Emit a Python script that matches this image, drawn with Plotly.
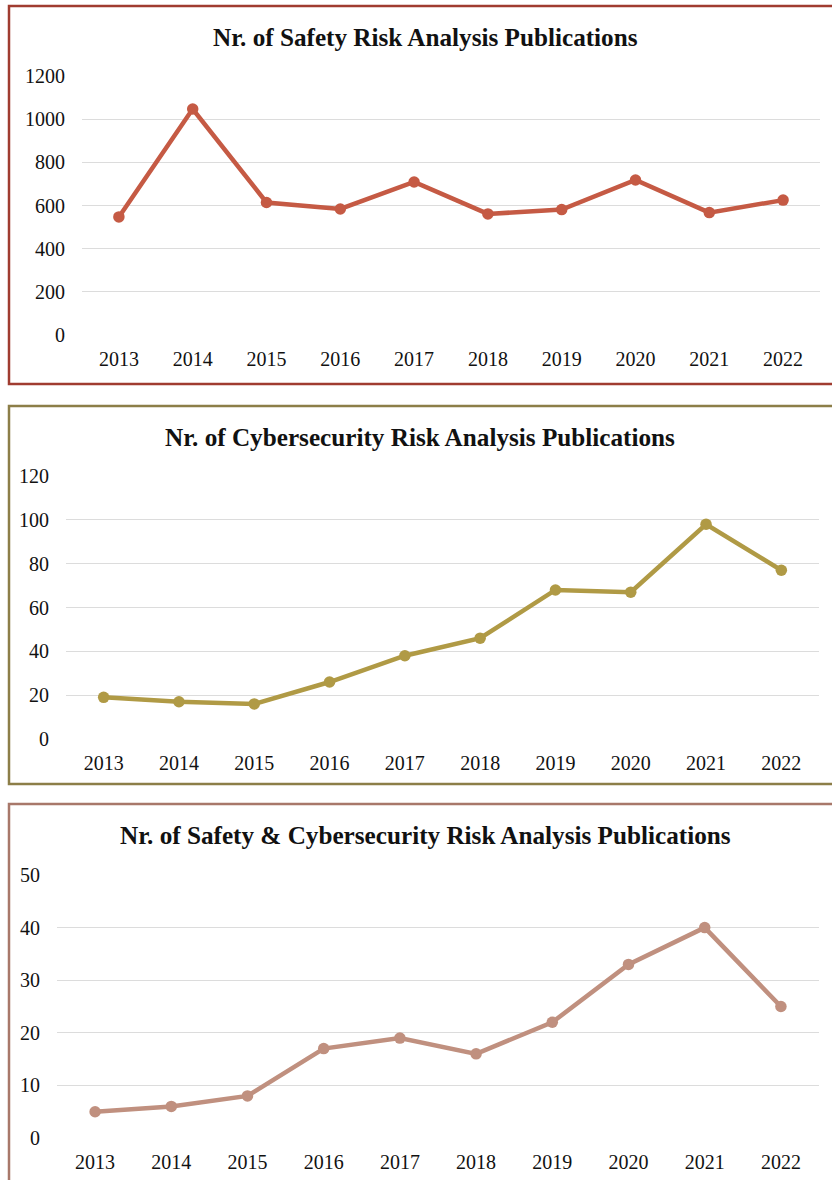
import plotly.graph_objects as go

years = ["2013", "2014", "2015", "2016", "2017", "2018", "2019", "2020", "2021", "2022"]
safety = [547, 1047, 614, 584, 709, 561, 581, 718, 567, 625]
cyber = [19, 17, 16, 26, 38, 46, 68, 67, 98, 77]
both = [5, 6, 8, 17, 19, 16, 22, 33, 40, 25]

titles = ["Nr. of Safety Risk Analysis Publications",
          "Nr. of Cybersecurity Risk Analysis Publications",
          "Nr. of Safety & Cybersecurity Risk Analysis Publications"]

W, H = 832, 1180
FONT = "Liberation Serif, Times New Roman, serif"

def px_x(x):
    return x / W

def px_y(y):
    return 1 - y / H

panels = [
    dict(data=safety, color="#c55a44", border="#a03c30", x0=82, x1=820, ytop=76, ybot=335,
         ymax=1200, dtick=200, box=(9, 6, 840, 384), title_y=37, title_x=426),
    dict(data=cyber, color="#b09a45", border="#8c7e48", x0=66, x1=819, ytop=476, ybot=739,
         ymax=120, dtick=20, box=(9, 406, 840, 784), title_y=437, title_x=420),
    dict(data=both, color="#c0907f", border="#a8786a", x0=57, x1=819, ytop=875, ybot=1138,
         ymax=50, dtick=10, box=(9, 804, 840, 1200), title_y=835, title_x=426),
]

fig = go.Figure()
shapes = []
annotations = []
layout = {}
for i, p in enumerate(panels):
    n = "" if i == 0 else str(i + 1)
    fig.add_trace(go.Scatter(
        x=years, y=p["data"], mode="lines+markers",
        line=dict(color=p["color"], width=4.5),
        marker=dict(color=p["color"], size=11.5),
        xaxis="x" + n, yaxis="y" + n, showlegend=False,
        hovertemplate="%{x}: %{y}<extra></extra>"))
    layout["xaxis" + n] = dict(
        domain=[px_x(p["x0"]), px_x(p["x1"])], anchor="y" + n,
        type="category", range=[-0.5, 9.5], showgrid=False, zeroline=False, showline=False,
        ticks="", tickfont=dict(family=FONT, size=20, color="#111"),
        ticklabelstandoff=10, automargin=False)
    layout["yaxis" + n] = dict(
        domain=[px_y(p["ybot"]), px_y(p["ytop"])], anchor="x" + n,
        range=[0, p["ymax"]], dtick=p["dtick"], showgrid=True,
        gridcolor="#dcdcdc", gridwidth=1, zeroline=False, showline=False,
        ticks="", tickfont=dict(family=FONT, size=20, color="#111"),
        ticklabelstandoff=16, automargin=False)
    bx0, by0, bx1, by1 = p["box"]
    shapes.append(dict(type="rect", xref="paper", yref="paper",
                       x0=px_x(bx0), x1=px_x(bx1), y0=px_y(by1), y1=px_y(by0),
                       line=dict(color=p["border"], width=2.5), layer="below"))
    annotations.append(dict(text="<b>" + titles[i] + "</b>", xref="paper", yref="paper",
                            x=px_x(p["title_x"]), y=px_y(p["title_y"]), showarrow=False,
                            xanchor="center", yanchor="middle",
                            font=dict(family=FONT, size=25.2, color="#111")))

fig.update_layout(width=W, height=H, margin=dict(l=0, r=0, t=0, b=0, autoexpand=False),
                  paper_bgcolor="white", plot_bgcolor="white",
                  shapes=shapes, annotations=annotations, **layout)

fig.write_html("out.html",
               post_script="document.body.style.margin='0';document.body.style.overflow='hidden';")
